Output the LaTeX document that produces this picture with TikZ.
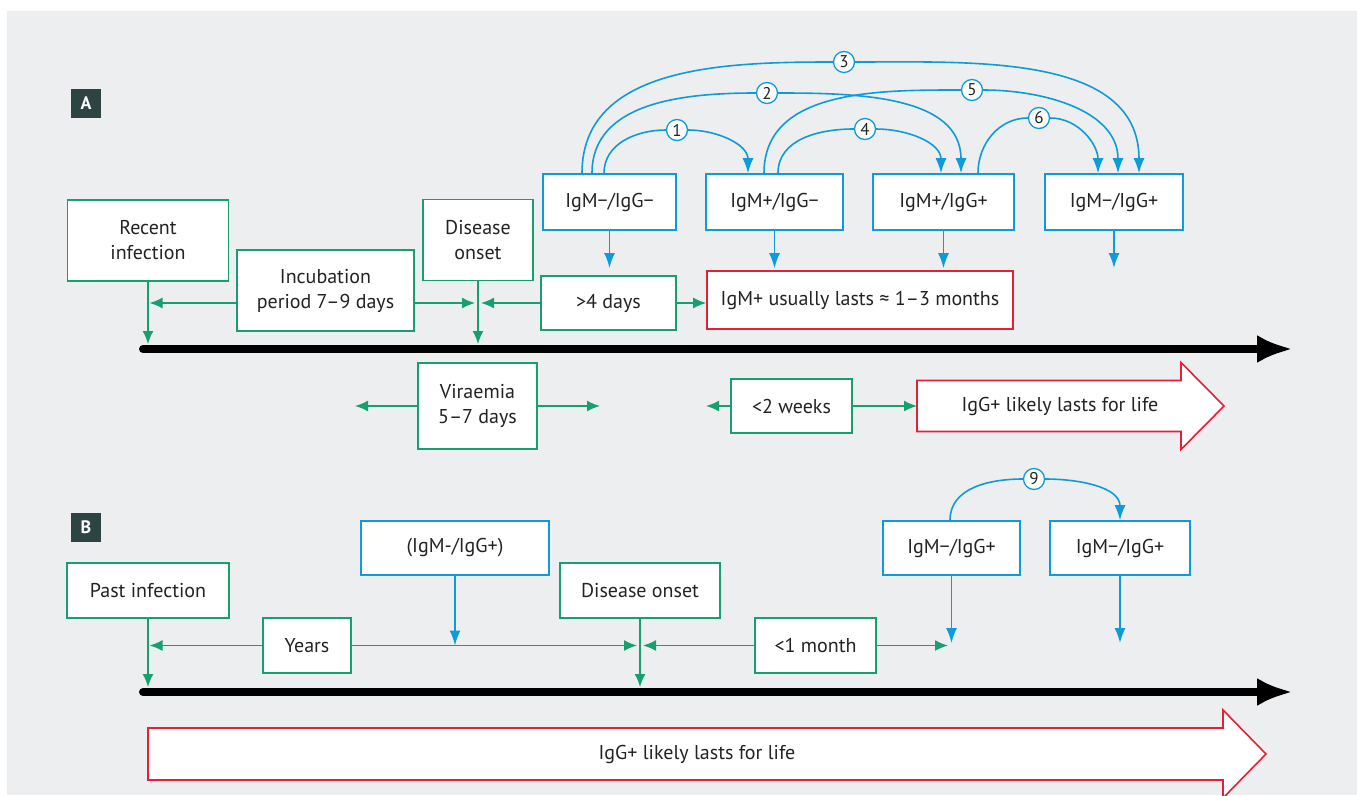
\documentclass[tikz,border=0pt]{standalone}
\usepackage{fontspec}
\setmainfont{PT Sans}
\usetikzlibrary{arrows.meta}

\definecolor{bggray}{RGB}{237,238,240}
\definecolor{gline}{RGB}{22,160,110}
\definecolor{bline}{RGB}{14,155,218}
\definecolor{rline}{RGB}{232,30,55}
\definecolor{tagbg}{RGB}{46,68,67}
\definecolor{txt}{RGB}{35,35,35}

\begin{document}
\begin{tikzpicture}[x=1pt, y=-1pt,
  every node/.style={font=\fontsize{20}{25}\selectfont, text=txt},
  gbox/.style={draw=gline, line width=1.6pt, fill=white, align=center, inner sep=0pt},
  bbox/.style={draw=bline, line width=1.6pt, fill=white, inner sep=0pt},
  rbox/.style={draw=rline, line width=1.6pt, fill=white, inner sep=0pt},
  garrow/.style={gline, line width=1.6pt, -{Latex[length=13pt, width=11pt]}},
  barrow/.style={bline, line width=1.6pt, -{Latex[length=15pt, width=11pt]}},
  num/.style={circle, draw=bline, line width=1.3pt, fill=white, inner sep=0pt,
    minimum size=21pt, font=\fontsize{17}{17}\selectfont},
  timeline/.style={line width=8pt, line cap=round, -{Latex[length=36pt, width=28pt]}},
  tag/.style={fill=tagbg, text=white, minimum width=30pt, minimum height=29pt,
    inner sep=0pt, font=\bfseries\fontsize{18}{18}\selectfont},
  lifearrow/.style={draw=rline, line width=1.6pt, fill=white},
  ]
\useasboundingbox (0,0) rectangle (1357,795);
\fill[bggray] (7,11) rectangle (1357,795);

% A: recent infection
\node[tag] (tagA) at (86,103.5) {A};
\coordinate (tA0) at (143,349);
\coordinate (tA1) at (1293,349);
\draw[timeline] (tA0) -- (tA1);

\node[gbox, minimum width=161pt, minimum height=81pt] (recent) at (148,240.5) {Recent\\infection};
\node[gbox, minimum width=177pt, minimum height=81pt] (incub) at (325.5,290.5) {Incubation\\period 7–9 days};
\node[gbox, minimum width=110pt, minimum height=81pt] (onsetA) at (478,240) {Disease\\onset};
\node[gbox, minimum width=135pt, minimum height=54pt] (days4) at (608.5,303) {>4 days};
\node[rbox, minimum width=306pt, minimum height=58pt] (igmlong) at (860,300) {IgM+ usually lasts ≈ 1–3 months};

\node[bbox, minimum width=133pt, minimum height=56pt] (mA1) at (609.5,202) {IgM−/IgG−};
\node[bbox, minimum width=137pt, minimum height=56pt] (mA2) at (774.5,202) {IgM+/IgG−};
\node[bbox, minimum width=141pt, minimum height=56pt] (mA3) at (943.5,202) {IgM+/IgG+};
\node[bbox, minimum width=138pt, minimum height=56pt] (mA4) at (1114,202) {IgM−/IgG+};

\node[gbox, minimum width=119pt, minimum height=86pt] (viraemia) at (477.5,406) {Viraemia\\5–7 days};
\node[gbox, minimum width=121pt, minimum height=54pt] (weeks2) at (791.5,406) {<2 weeks};
\draw[lifearrow] (917,380.5) -- (1181,380.5) -- (1181,362.5) -- (1224,406)
  -- (1181,449.5) -- (1181,431.5) -- (917,431.5) -- cycle;
\node (lifeA) at (1060,406) {IgG+ likely lasts for life};
\coordinate (lifeAtail) at (917,406);
\coordinate (virL) at (355,406);
\coordinate (virR) at (600,406);
\coordinate (weeksL) at (706,406);
\coordinate (endA1) at (609.5,268);
\coordinate (endA4) at (1114,268);

\draw[garrow, shorten >=5pt] (recent.south) -- (recent.south |- tA0);
\draw[garrow, shorten >=5pt] (onsetA.south) -- (onsetA.south |- tA0);
\draw[garrow, shorten >=1.5pt] (incub.west |- days4) -- (recent.south |- days4);
\draw[garrow, shorten >=3pt] (incub.east |- days4) -- (onsetA.south |- days4);
\draw[garrow, shorten >=3pt] (days4.west) -- (onsetA.south |- days4);
\draw[garrow] (days4.east) -- (igmlong.west |- days4);
\draw[garrow] (viraemia.west) -- (virL);
\draw[garrow] (viraemia.east) -- (virR);
\draw[garrow] (weeks2.west) -- (weeksL);
\draw[garrow] (weeks2.east) -- (lifeAtail);

\draw[barrow] (mA1.south) -- (endA1);
\draw[barrow, shorten >=2pt] (mA2.south) -- (mA2.south |- igmlong.north);
\draw[barrow, shorten >=2pt] (mA3.south) -- (mA3.south |- igmlong.north);
\draw[barrow] (mA4.south) -- (endA4);

\node[num] (c1) at (677,130) {1};
\node[num] (c2) at (767,93) {2};
\node[num] (c3) at (844,62) {3};
\node[num] (c4) at (865,129) {4};
\node[num] (c5) at (972,90) {5};
\node[num] (c6) at (1039,118) {6};
\draw[barrow] ([xshift=-5.5pt]mA1.north) to[out=90,in=180] (c1.west) (c1.east) to[out=0,in=90] ([xshift=-26.5pt]mA2.north);
\draw[barrow] ([xshift=-17.5pt]mA1.north) to[out=90,in=180] (c2.west) (c2.east) to[out=0,in=90] ([xshift=17.5pt]mA3.north);
\draw[barrow] ([xshift=-27.5pt]mA1.north) to[out=90,in=180] (c3.west) (c3.east) to[out=0,in=90] ([xshift=25pt]mA4.north);
\draw[barrow] ([xshift=3.5pt]mA2.north) to[out=90,in=180] (c4.west) (c4.east) to[out=0,in=90] ([xshift=-2.5pt]mA3.north);
\draw[barrow] ([xshift=-10.5pt]mA2.north) to[out=90,in=180] (c5.west) (c5.east) to[out=0,in=90] ([xshift=4pt]mA4.north);
\draw[barrow] ([xshift=34.5pt]mA3.north) to[out=90,in=180] (c6.west) (c6.east) to[out=0,in=90] ([xshift=-16pt]mA4.north);

% B: past infection
\node[tag] (tagB) at (86,527.5) {B};
\coordinate (tB0) at (143,692);
\coordinate (tB1) at (1293,692);
\draw[timeline] (tB0) -- (tB1);

\node[gbox, minimum width=162pt, minimum height=55pt] (past) at (148,590.5) {Past infection};
\node[gbox, minimum width=88pt, minimum height=55pt] (years) at (307,645.5) {Years};
\node[bbox, minimum width=188pt, minimum height=54pt] (mB0) at (455,548) {(IgM-/IgG+)};
\node[gbox, minimum width=160pt, minimum height=55pt] (onsetB) at (640,590.5) {Disease onset};
\node[gbox, minimum width=121pt, minimum height=55pt] (month1) at (815.5,645.5) {<1 month};
\node[bbox, minimum width=137pt, minimum height=54pt] (mB1) at (951.5,548) {IgM−/IgG+};
\node[bbox, minimum width=140pt, minimum height=54pt] (mB2) at (1120,548) {IgM−/IgG+};
\draw[lifearrow] (148,728) -- (1223,728) -- (1223,710) -- (1266,754)
  -- (1223,798) -- (1223,780) -- (148,780) -- cycle;
\node (lifeB) at (697,754) {IgG+ likely lasts for life};
\coordinate (monthR) at (948,645.5);
\coordinate (endB1) at (951.5,643);
\coordinate (endB2) at (1120,643);

\draw[garrow, shorten >=5pt] (past.south) -- (past.south |- tB0);
\draw[garrow, shorten >=5pt] (onsetB.south) -- (onsetB.south |- tB0);
\draw[garrow, shorten >=1.5pt] (years.west) -- (past.south |- years);
\draw[garrow, shorten >=3pt] (years.east) -- (onsetB.south |- years);
\draw[garrow, shorten >=3pt] (month1.west) -- (onsetB.south |- years);
\draw[garrow] (month1.east) -- (monthR);

\draw[barrow] (mB0.south) -- (mB0.south |- years);
\draw[barrow] (mB1.south) -- (endB1);
\draw[barrow] (mB2.south) -- (endB2);

\node[num] (c9) at (1034,479) {9};
\draw[barrow] ([xshift=-1.5pt]mB1.north) to[out=90,in=180] (c9.west) (c9.east) to[out=0,in=90] (mB2.north);
\end{tikzpicture}
\end{document}
